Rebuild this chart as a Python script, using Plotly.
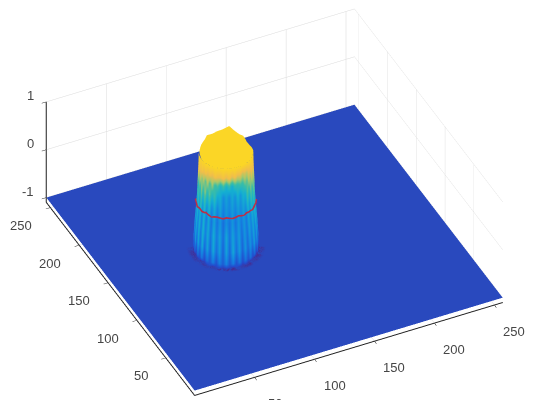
import math
import plotly.graph_objects as go

# axis ticks
x_ticks = [50, 100, 150, 200, 250]
y_ticks = [50, 100, 150, 200, 250]
z_ticks = [-1, 0, 1]
grid_x = [0, 64, 128, 192, 257]
grid_y = [0, 64, 128, 192, 257]
floor_level = -1
z_bottom = -1.1

# tower
tower_x, tower_y = 96, 145
wall_theta = [155 + 6 * i for i in range(31)]
wall_z = [-1, -1, -0.93, -0.7, -0.4, -0.12, 0.15, 0.4, 0.62, 0.8, 0.99]
wall_radius = [30, 25, 24.8, 24.4, 23.6, 22.6, 21.8, 21.4, 21, 20.7, 20.5]
wall_colour = [
 [0]*31,
 [10,9,10,8,10,12,14,10,12,15,18,12,15,18,14,18,15,12,18,15,12,15,12,10,12,8,10,9,8,10,8],
 [14,20,13,24,14,28,18,32,16,30,20,34,18,34,22,36,20,34,18,32,16,30,18,30,16,26,14,22,13,12,10],
 [24,36,24,44,26,46,28,48,26,46,26,48,28,44,24,46,26,48,28,44,24,42,26,40,28,44,28,40,24,32,22],
 [34,44,32,48,34,50,32,52,34,48,30,50,32,46,28,48,30,46,32,44,28,42,30,44,34,46,34,48,36,44,32],
 [44,50,42,52,38,52,34,52,32,48,30,46,30,42,28,40,30,42,30,42,32,42,32,46,36,48,42,52,44,52,46],
 [52,60,48,60,46,60,44,58,42,54,38,50,36,46,34,42,36,44,36,44,38,46,40,54,44,58,50,60,50,60,52],
 [60,68,54,66,56,70,58,70,56,66,54,60,48,50,38,46,38,48,40,52,42,52,50,64,56,68,58,70,60,70,62],
 [80,76,78,70,78,68,74,64,74,62,72,60,64,54,62,52,60,50,60,58,62,60,68,64,74,70,78,72,78,74,80],
 [88,92,86,90,84,88,82,86,80,84,80,86,82,82,86,80,86,78,84,78,80,74,78,76,82,82,84,84,86,86,90],
 [94,94,94,95,94,95,95,96,95,96,96,96,96,96,96,96,96,96,96,96,96,96,95,96,95,96,95,95,94,95,94],
]
cap_theta = [10 * i for i in range(37)]
cap_rim_radius = [19.5,19.5,21,23,23.5,26,31,27,25.5,24,24.5,22,21,20.5,20,20,20,20,20.5,20.5,20.5,20.5,20.5,20.5,20.5,20.5,20.5,20.5,20.5,20.5,20.5,20.5,20.5,20.5,20.5,20,19.5]
cap_level = 0.99
red_radius = [22.4,22.2,22.2,22.4,22.3,22.2,22.4,22.3,22.2,22.3,22.2,22.4,22.2,22.3,22.3,22.4,22.2,22.3,22.4,22.2,22.3,22.2,22.4,22.3,22.2,22.3,22.4,22.2,22.3,22.2,22.4]
red_z = [0.02,0,0.01,-0.02,0,0.01,-0.01,0,0.02,0,-0.02,0,0.01,0,-0.01,0.01,0,-0.01,0,0.02,0,-0.01,0.01,0,0,-0.02,0,0.01,0,0.01,0]

colorscale = [
 [0.00, "rgb(41,73,190)"], [0.08, "rgb(72,40,140)"], [0.16, "rgb(35,75,205)"],
 [0.35, "rgb(20,130,225)"], [0.50, "rgb(20,175,210)"], [0.62, "rgb(60,190,165)"],
 [0.72, "rgb(170,200,105)"], [0.82, "rgb(240,190,75)"], [0.95, "rgb(250,212,40)"],
 [1.00, "rgb(253,222,30)"],
]
flat = dict(ambient=1, diffuse=0, specular=0, roughness=1, fresnel=0)

def surf(xs, ys, zs, cs):
    return go.Surface(x=xs, y=ys, z=zs, surfacecolor=cs, colorscale=colorscale, cmin=0, cmax=100,
                      showscale=False, lighting=flat, hoverinfo="skip",
                      contours=dict(x=dict(highlight=False), y=dict(highlight=False), z=dict(highlight=False)))

fig = go.Figure()
fig.add_trace(surf(grid_x, grid_y, [[floor_level]*5 for _ in grid_y], [[0]*5 for _ in grid_y]))

wx = [[tower_x + r*math.cos(math.radians(t)) for t in wall_theta] for r in wall_radius]
wy = [[tower_y + r*math.sin(math.radians(t)) for t in wall_theta] for r in wall_radius]
wz = [[z]*len(wall_theta) for z in wall_z]
fig.add_trace(surf(wx, wy, wz, wall_colour))

cx = [[tower_x]*37, [tower_x + r*math.cos(math.radians(t)) for r, t in zip(cap_rim_radius, cap_theta)]]
cy = [[tower_y]*37, [tower_y + r*math.sin(math.radians(t)) for r, t in zip(cap_rim_radius, cap_theta)]]
fig.add_trace(surf(cx, cy, [[cap_level]*37]*2, [[96]*37]*2))

fig.add_trace(go.Scatter3d(
    x=[tower_x + r*math.cos(math.radians(t)) for r, t in zip(red_radius, wall_theta)],
    y=[tower_y + r*math.sin(math.radians(t)) for r, t in zip(red_radius, wall_theta)],
    z=red_z, mode="lines", line=dict(color="rgb(190,45,70)", width=6), hoverinfo="skip", showlegend=False))

def axis(rng, ticks):
    return dict(range=rng, tickvals=ticks, title=dict(text=""), showbackground=False, showspikes=False,
                showgrid=True, gridcolor="rgb(218,218,218)", gridwidth=1, zeroline=False,
                showline=True, linecolor="rgb(30,30,30)", linewidth=2, showticklabels=False,
                ticks="outside", ticklen=5, tickcolor="rgb(40,40,40)")

label_font = dict(family="Liberation Sans", size=13, color="rgb(70,70,70)")
notes = []
for v in x_ticks:
    notes.append(dict(x=v, y=0, z=z_bottom, text=str(v), showarrow=False, font=label_font, xanchor="center", yanchor="middle", xshift=20, yshift=-26))
for v in y_ticks:
    notes.append(dict(x=0, y=v, z=z_bottom, text=str(v), showarrow=False, font=label_font, xanchor="right", yanchor="middle", xshift=-16, yshift=-18))
for v in z_ticks:
    notes.append(dict(x=0, y=257, z=v, text=str(v), showarrow=False, font=label_font, xanchor="right", yanchor="middle", xshift=-10, yshift=6))

el, az, dist = math.radians(38.8), math.radians(25.7), 1.17
ctr = dict(x=0.0054, y=-0.023, z=-0.0225)
scale = 1.71
fig.update_layout(
    width=539, height=400, margin=dict(l=0, r=0, t=0, b=0), paper_bgcolor="white", showlegend=False,
    scene=dict(
        domain=dict(x=[0, 1], y=[0, 1]), annotations=notes,
        xaxis=axis([0, 257], x_ticks), yaxis=axis([0, 257], y_ticks), zaxis=axis([z_bottom, 1], z_ticks),
        aspectmode="manual", aspectratio=dict(x=scale, y=scale, z=0.377*scale),
        camera=dict(projection=dict(type="orthographic"),
                    up=dict(x=0, y=0, z=1), center=ctr,
                    eye=dict(x=ctr["x"]-dist*math.sin(az)*math.cos(el), y=ctr["y"]-dist*math.cos(az)*math.cos(el), z=ctr["z"]+dist*math.sin(el))),
    ),
)
fig.write_html("out.html")
